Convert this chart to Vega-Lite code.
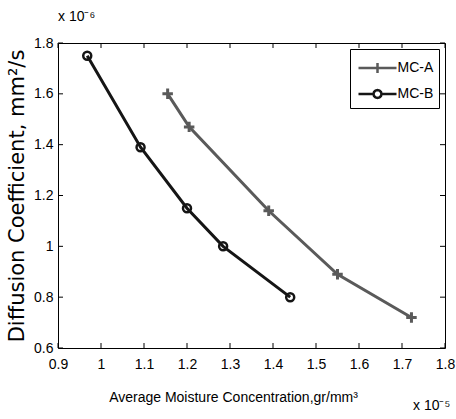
{
  "$schema": "https://vega.github.io/schema/vega-lite/v6.json",
  "width": 387,
  "height": 305,
  "autosize": {"type": "none"},
  "padding": {"left": 58, "top": 43, "right": 11, "bottom": 71},
  "background": "white",
  "config": {
    "view": {"stroke": "black", "strokeWidth": 1},
    "font": "Liberation Sans"
  },
  "datasets": {
    "points": [
      {"series": "MC-A", "conc": 1.155, "diff": 1.60},
      {"series": "MC-A", "conc": 1.205, "diff": 1.47},
      {"series": "MC-A", "conc": 1.39, "diff": 1.14},
      {"series": "MC-A", "conc": 1.55, "diff": 0.89},
      {"series": "MC-A", "conc": 1.722, "diff": 0.72},
      {"series": "MC-B", "conc": 0.968, "diff": 1.75},
      {"series": "MC-B", "conc": 1.092, "diff": 1.39},
      {"series": "MC-B", "conc": 1.2, "diff": 1.15},
      {"series": "MC-B", "conc": 1.284, "diff": 1.0},
      {"series": "MC-B", "conc": 1.44, "diff": 0.8}
    ],
    "xticks": [{"v": 0.9}, {"v": 1.0}, {"v": 1.1}, {"v": 1.2}, {"v": 1.3}, {"v": 1.4}, {"v": 1.5}, {"v": 1.6}, {"v": 1.7}, {"v": 1.8}],
    "yticks": [{"v": 0.6}, {"v": 0.8}, {"v": 1.0}, {"v": 1.2}, {"v": 1.4}, {"v": 1.6}, {"v": 1.8}]
  },
  "layer": [
    {
      "data": {"name": "xticks"},
      "mark": {"type": "rule", "color": "black", "strokeWidth": 1, "y2Offset": -5},
      "encoding": {
        "x": {"field": "v", "type": "quantitative", "scale": {"domain": [0.9, 1.8], "nice": false, "zero": false},
          "axis": {
            "orient": "bottom", "values": [0.9, 1.0, 1.1, 1.2, 1.3, 1.4, 1.5, 1.6, 1.7, 1.8],
            "labelExpr": "datum.value == 1 ? '1' : format(datum.value, '.1f')",
            "ticks": false, "domain": false,
            "grid": false, "labelPadding": 9, "labelFontSize": 14, "labelColor": "black",
            "labelFont": "Liberation Sans", "labelFlush": false,
            "title": "Average Moisture Concentration,gr/mm³",
            "titleFont": "Liberation Sans", "titleFontSize": 14, "titleFontWeight": "normal",
            "titleColor": "black", "titlePadding": 19, "titleX": 175
          }},
        "y": {"datum": 0.6, "type": "quantitative", "scale": {"domain": [0.6, 1.8], "nice": false, "zero": false},
          "axis": {
            "orient": "left", "values": [0.6, 0.8, 1.0, 1.2, 1.4, 1.6, 1.8],
            "labelExpr": "datum.value == 1 ? '1' : format(datum.value, '.1f')",
            "ticks": false, "domain": false,
            "grid": false, "labelPadding": 5, "labelFontSize": 14, "labelColor": "black",
            "labelFont": "Liberation Sans", "labelFlush": false,
            "title": "Diffusion Coefficient, mm²/s",
            "titleFont": "DejaVu Sans", "titleFontSize": 21, "titleFontWeight": "normal",
            "titleColor": "black", "titlePadding": 6
          }},
        "y2": {"datum": 0.6}
      }
    },
    {
      "data": {"name": "xticks"},
      "mark": {"type": "rule", "color": "black", "strokeWidth": 1, "y2Offset": 5},
      "encoding": {
        "x": {"field": "v", "type": "quantitative"},
        "y": {"datum": 1.8, "type": "quantitative"},
        "y2": {"datum": 1.8}
      }
    },
    {
      "data": {"name": "yticks"},
      "mark": {"type": "rule", "color": "black", "strokeWidth": 1, "x2Offset": 5},
      "encoding": {
        "y": {"field": "v", "type": "quantitative"},
        "x": {"datum": 0.9, "type": "quantitative"},
        "x2": {"datum": 0.9}
      }
    },
    {
      "data": {"name": "yticks"},
      "mark": {"type": "rule", "color": "black", "strokeWidth": 1, "x2Offset": -5},
      "encoding": {
        "y": {"field": "v", "type": "quantitative"},
        "x": {"datum": 1.8, "type": "quantitative"},
        "x2": {"datum": 1.8}
      }
    },
    {
      "data": {"name": "points"},
      "mark": {"type": "line", "strokeWidth": 3},
      "encoding": {
        "x": {"field": "conc", "type": "quantitative"},
        "y": {"field": "diff", "type": "quantitative"},
        "color": {
          "field": "series", "type": "nominal",
          "scale": {"domain": ["MC-A", "MC-B"], "range": ["#5a5a5a", "#151515"]},
          "legend": {
            "title": " ", "titleFontSize": 4, "titlePadding": 3,
            "orient": "top-right", "offset": 6,
            "strokeColor": "black", "fillColor": "white", "padding": 5,
            "labelFont": "Liberation Sans", "labelFontSize": 14, "labelColor": "black",
            "symbolSize": 100, "symbolStrokeWidth": 2.5, "symbolOffset": 15.5, "labelOffset": 13,
            "rowPadding": 7,
            "encode": {
              "symbols": {
                "update": {
                  "shape": {"signal": "datum.value === 'MC-A' ? 'M-3.8,0L3.8,0M0,-1L0,1' : 'M-3.8,0L-0.8,0M0.8,0L3.8,0M0.8,0L0.693,0.4L0.4,0.693L0,0.8L-0.4,0.693L-0.693,0.4L-0.8,0L-0.693,-0.4L-0.4,-0.693L0,-0.8L0.4,-0.693L0.693,-0.4Z'"},
                  "fill": {"value": "transparent"}
                }
              }
            }
          }
        }
      }
    },
    {
      "data": {"name": "points"},
      "transform": [{"filter": "datum.series === 'MC-A'"}],
      "mark": {"type": "point", "filled": false, "strokeWidth": 3, "size": 110, "opacity": 1, "shape": "M-1,0L1,0M0,-1L0,1"},
      "encoding": {
        "x": {"field": "conc", "type": "quantitative"},
        "y": {"field": "diff", "type": "quantitative"},
        "color": {"field": "series", "type": "nominal", "legend": null}
      }
    },
    {
      "data": {"name": "points"},
      "transform": [{"filter": "datum.series === 'MC-B'"}],
      "mark": {"type": "point", "filled": false, "strokeWidth": 2.5, "size": 64, "opacity": 1, "shape": "circle"},
      "encoding": {
        "x": {"field": "conc", "type": "quantitative"},
        "y": {"field": "diff", "type": "quantitative"},
        "color": {"field": "series", "type": "nominal", "legend": null}
      }
    },
    {
      "data": {"values": [{"label": "x 10⁻⁶"}]},
      "mark": {"type": "text", "align": "left", "baseline": "alphabetic", "dy": -22, "fontSize": 14, "font": "Liberation Sans", "color": "black"},
      "encoding": {
        "x": {"datum": 0.9, "type": "quantitative"},
        "y": {"datum": 1.8, "type": "quantitative"},
        "text": {"field": "label"}
      }
    },
    {
      "data": {"values": [{"label": "x 10⁻⁵"}]},
      "mark": {"type": "text", "align": "left", "baseline": "alphabetic", "dx": -32, "dy": 62, "fontSize": 14, "font": "Liberation Sans", "color": "black"},
      "encoding": {
        "x": {"datum": 1.8, "type": "quantitative"},
        "y": {"datum": 0.6, "type": "quantitative"},
        "text": {"field": "label"}
      }
    }
  ]
}
